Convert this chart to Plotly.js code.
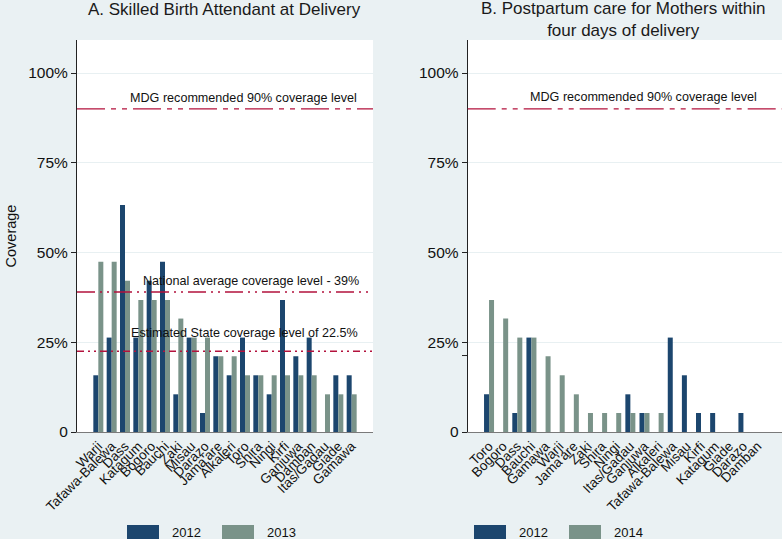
<!DOCTYPE html>
<html>
<head>
<meta charset="utf-8">
<script src="https://cdn.plot.ly/plotly-3.0.1.min.js"></script>
<style>
html,body{margin:0;padding:0;background:#eaf1f3;}
#chart{width:782px;height:539px;}
</style>
</head>
<body>
<div id="chart"></div>
<script>
// ---- Data ----
const sbaDistricts = ["Warji","Tafawa-Balewa","Dass","Katagum","Bogoro","Bauchi","Zaki","Misau","Darazo","Jama'are","Alkaleri","Toro","Shira","Ningi","Kirfi","Ganjuwa","Damban","Itas/Gadau","Giade","Gamawa"];
const sba2012 = [15.8, 26.3, 63.2, 26.3, 42.1, 47.4, 10.5, 26.3, 5.3, 21.1, 15.8, 26.3, 15.8, 10.5, 36.8, 21.1, 26.3, 0, 15.8, 15.8];
const sba2013 = [47.4, 47.4, 42.1, 36.8, 36.8, 36.8, 31.6, 26.3, 26.3, 21.1, 21.1, 15.8, 15.8, 15.8, 15.8, 15.8, 15.8, 10.5, 10.5, 10.5];

const pncDistricts = ["Toro","Bogoro","Dass","Bauchi","Gamawa","Warji","Jama'are","Zaki","Shira","Ningi","Itas/Gadau","Ganjuwa","Alkaleri","Tafawa-Balewa","Misau","Kirfi","Katagum","Giade","Darazo","Damban"];
const pnc2012 = [10.5, 0, 5.3, 26.3, 0, 0, 0, 0, 0, 0, 10.5, 5.3, 0, 26.3, 15.8, 5.3, 5.3, 0, 5.3, 0];
const pnc2014 = [36.8, 31.6, 26.3, 26.3, 21.1, 15.8, 10.5, 5.3, 5.3, 5.3, 5.3, 5.3, 5.3, 0, 0, 0, 0, 0, 0, 0];

const yTickVals = [0, 25, 50, 75, 100];
const yTickText = ["0", "25%", "50%", "75%", "100%"];

const leftRefLevels = [90, 39, 22.5];
const leftRefLabels = ["MDG recommended 90% coverage level", "National average coverage level - 39%", "Estimated State coverage level of 22.5%"];
const rightRefLevels = [90];
const rightRefLabels = ["MDG recommended 90% coverage level"];

const leftYears = ["2012", "2013"];
const rightYears = ["2012", "2014"];

// ---- Styles ----
const W = 782, H = 539;
const navy = "#1c466e";
const sage = "#7a9389";
const refColor = "#b3123d";
const font = "Liberation Sans, Arial, sans-serif";
const px = v => v / W;
const py = v => 1 - v / H;

const lw = 0.375, rw = 0.354;

const traces = [
  {type:"bar", x:sbaDistricts, y:sba2012, xaxis:"x", yaxis:"y", width:lw, offset:-lw, marker:{color:navy, line:{width:0}}, name:leftYears[0], showlegend:false, hoverinfo:"x+y"},
  {type:"bar", x:sbaDistricts, y:sba2013, xaxis:"x", yaxis:"y", width:lw, offset:0, marker:{color:sage, line:{width:0}}, name:leftYears[1], showlegend:false, hoverinfo:"x+y"},
  {type:"bar", x:pncDistricts, y:pnc2012, xaxis:"x2", yaxis:"y2", width:rw, offset:-rw, marker:{color:navy, line:{width:0}}, name:rightYears[0], showlegend:false, hoverinfo:"x+y"},
  {type:"bar", x:pncDistricts, y:pnc2014, xaxis:"x2", yaxis:"y2", width:rw, offset:0, marker:{color:sage, line:{width:0}}, name:rightYears[1], showlegend:false, hoverinfo:"x+y"}
];

const dashes = ["28px,6px,5px,6px,5px,6px", "18px,5px,2px,5px,2px,5px", "7px,4px,2px,4px,2px,4px"];

const shapes = [];
leftRefLevels.forEach((lv, i) => {
  shapes.push({type:"line", xref:"x domain", yref:"y", x0:0, x1:1, y0:lv, y1:lv, line:{color:refColor, width:1.3, dash:dashes[i]}});
});
rightRefLevels.forEach((lv, i) => {
  shapes.push({type:"line", xref:"x2 domain", yref:"y2", x0:0, x1:1, y0:lv, y1:lv, line:{color:refColor, width:1.3, dash:dashes[i]}});
});
// stray tick on right axis
shapes.push({type:"line", xref:"paper", yref:"y2", x0:px(462), x1:px(467.7), y0:21.3, y1:21.3, line:{color:"#222", width:1}});

// legend swatches
const swatches = [
  {x0:127, x1:159, c:navy, t:leftYears[0], tx:170},
  {x0:222, x1:254, c:sage, t:leftYears[1], tx:265},
  {x0:474, x1:506, c:navy, t:rightYears[0], tx:517},
  {x0:569, x1:601, c:sage, t:rightYears[1], tx:612}
];
const annotations = [];
swatches.forEach(s => {
  shapes.push({type:"rect", xref:"paper", yref:"paper", x0:px(s.x0), x1:px(s.x1), y0:py(548), y1:py(525), fillcolor:s.c, line:{width:0}});
  annotations.push({xref:"paper", yref:"paper", x:px(s.tx), y:py(532), xanchor:"left", yanchor:"middle", text:s.t, showarrow:false, font:{family:font, size:13, color:"#111"}});
});

// reference line labels
const leftLabelPos = [[243, 98], [251, 281], [244, 333]];
leftRefLabels.forEach((t, i) => {
  annotations.push({xref:"paper", yref:"paper", x:px(leftLabelPos[i][0]), y:py(leftLabelPos[i][1]), xanchor:"center", yanchor:"middle", text:t, showarrow:false, font:{family:font, size:12.6, color:"#111"}});
});
annotations.push({xref:"paper", yref:"paper", x:px(643), y:py(97), xanchor:"center", yanchor:"middle", text:rightRefLabels[0], showarrow:false, font:{family:font, size:12.6, color:"#111"}});

// panel titles
annotations.push({xref:"paper", yref:"paper", x:px(224), y:py(10), xanchor:"center", yanchor:"middle", text:"A. Skilled Birth Attendant at Delivery", showarrow:false, font:{family:font, size:17, color:"#1a1a1a"}});
annotations.push({xref:"paper", yref:"paper", x:px(623), y:py(20), xanchor:"center", yanchor:"middle", text:"B. Postpartum care for Mothers within<br>four days of delivery", showarrow:false, font:{family:font, size:17, color:"#1a1a1a"}});

const yTop = (432 - 40) / 3.59;
const yAxisBase = {
  range:[0, yTop], tickvals:yTickVals, ticktext:yTickText, ticks:"outside", ticklen:5, tickwidth:1, tickcolor:"#222",
  showline:true, linecolor:"#222", linewidth:1, showgrid:true, gridcolor:"#e8f0f2", gridwidth:1, zeroline:false,
  tickfont:{family:font, size:15.5, color:"#111"}, domain:[py(432), py(40)], fixedrange:true
};
const xAxisBase = {
  type:"category", tickangle:-45, ticks:"", showline:true, linecolor:"#7a7a7a", linewidth:1, showgrid:false, zeroline:false,
  tickfont:{family:font, size:13.5, color:"#111"}, fixedrange:true, tickmode:"array"
};

const layout = {
  width:W, height:H, margin:{l:0, r:0, t:0, b:0},
  paper_bgcolor:"#eaf1f3", plot_bgcolor:"#ffffff",
  barmode:"overlay", showlegend:false,
  xaxis:Object.assign({}, xAxisBase, {domain:[px(77), px(373)], range:[-1.6, 20.6], anchor:"y", tickvals:sbaDistricts, ticktext:sbaDistricts}),
  xaxis2:Object.assign({}, xAxisBase, {domain:[px(467.7), 1], range:[-1.51, 20.73], anchor:"y2", tickvals:pncDistricts, ticktext:pncDistricts}),
  yaxis:Object.assign({}, yAxisBase, {anchor:"x", title:{text:"Coverage", font:{family:font, size:14.5, color:"#111"}, standoff:8}}),
  yaxis2:Object.assign({}, yAxisBase, {anchor:"x2"}),
  shapes:shapes, annotations:annotations
};

Plotly.newPlot("chart", traces, layout, {displayModeBar:false, staticPlot:true});
</script>
</body>
</html>
